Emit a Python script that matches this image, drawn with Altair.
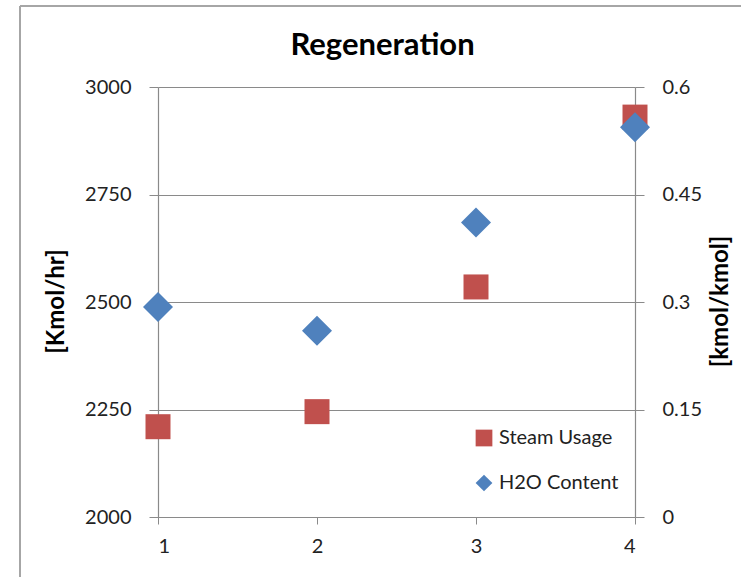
import altair as alt
import pandas as pd

# Regeneration runs: steam usage (left axis) and H2O content (right axis)
runs = [1, 2, 3, 4]
steam_usage = [2210, 2245, 2535, 2930]        # [Kmol/hr]
h2o_content = [0.293, 0.260, 0.411, 0.544]    # [kmol/kmol]

series_names = ["Steam Usage", "H2O Content"]
series_colors = ["#C0504D", "#4F81BD"]
series_shapes = ["square", "diamond"]

x_ticks = [1, 2, 3, 4]
left_ticks = [2000, 2250, 2500, 2750, 3000]
right_ticks = [0, 0.15, 0.3, 0.45, 0.6]

steam_df = pd.DataFrame({"run": runs, "value": steam_usage, "series": series_names[0]})
h2o_df = pd.DataFrame({"run": runs, "value": h2o_content, "series": series_names[1]})

FONT = "Lato"
TEXT = "#222222"
LINE = "#8a8a8a"

color_scale = alt.Scale(domain=series_names, range=series_colors)
shape_scale = alt.Scale(domain=series_names, range=series_shapes)
legend = alt.Legend(title=None)

x_enc = alt.X(
    "run:Q",
    scale=alt.Scale(domain=[1, 4], nice=False, zero=False),
    axis=alt.Axis(
        values=x_ticks, format="d", title=None, grid=False,
        domainColor=LINE, tickColor=LINE, tickSize=7,
        labelPadding=12, labelFontSize=20, labelColor=TEXT,
    ),
)

steam = alt.Chart(steam_df).mark_point(filled=True, size=625, opacity=1).encode(
    x=x_enc,
    y=alt.Y(
        "value:Q",
        scale=alt.Scale(domain=[2000, 3000], nice=False, zero=False),
        axis=alt.Axis(
            values=left_ticks, format="d", title="[Kmol/hr]", orient="left",
            grid=True, gridColor=LINE, gridWidth=1.2,
            domainColor=LINE, domainWidth=1.2, tickColor=LINE, tickSize=9,
            labelPadding=18, labelFontSize=20, labelColor=TEXT,
            titleFontSize=24, titleFontWeight="bold", titleColor="#000000",
            titleAngle=270, titleAlign="center", titleBaseline="middle",
            titleX=-102, titleY=214,
        ),
    ),
    color=alt.Color("series:N", scale=color_scale, legend=legend),
    shape=alt.Shape("series:N", scale=shape_scale, legend=legend),
)

h2o = alt.Chart(h2o_df).mark_point(filled=True, size=900, opacity=1).encode(
    x=x_enc,
    y=alt.Y(
        "value:Q",
        scale=alt.Scale(domain=[0, 0.6], nice=False, zero=True),
        axis=alt.Axis(
            values=right_ticks, labelExpr="'' + datum.value",
            title="[kmol/kmol]", orient="right", grid=False,
            domainColor=LINE, domainWidth=1.2, tickColor=LINE, tickSize=9,
            labelPadding=18, labelFontSize=20, labelColor=TEXT,
            titleFontSize=24, titleFontWeight="bold", titleColor="#000000",
            titleAngle=270, titleAlign="center", titleBaseline="middle",
            titleX=85, titleY=214,
        ),
    ),
    color=alt.Color("series:N", scale=color_scale, legend=legend),
    shape=alt.Shape("series:N", scale=shape_scale, legend=legend),
)

# outer chart-area frame (left and top edges)
frame_df = pd.DataFrame({"edge": [0]})
frame_left = alt.Chart(frame_df).mark_rule(color="#a6a6a6", strokeWidth=2).encode(
    x=alt.value(-138), y=alt.value(-81), y2=alt.value(490)
)
frame_top = alt.Chart(frame_df).mark_rule(color="#a6a6a6", strokeWidth=2).encode(
    x=alt.value(-138), x2=alt.value(583), y=alt.value(-81)
)

chart = (
    alt.layer(frame_left, frame_top, steam, h2o)
    .resolve_scale(y="independent")
    .properties(
        width=477,
        height=430,
        autosize=alt.AutoSizeParams(type="none"),
        padding={"left": 158, "top": 87, "right": 106, "bottom": 60},
        title=alt.TitleParams(
            "Regeneration", fontSize=31, fontWeight="bold", color="#000000",
            font=FONT, anchor="middle", dx=-14, offset=-57,
        ),
    )
    .configure(font=FONT, background="white")
    .configure_view(strokeWidth=0)
    .configure_legend(
        orient="none", legendX=316, legendY=341, padding=0,
        symbolSize=280, symbolStrokeWidth=0, symbolType="square",
        labelFontSize=20, labelColor=TEXT, labelOffset=5, rowPadding=25,
    )
)

chart.save("out.html", embed_options={"renderer": "svg", "actions": False})
